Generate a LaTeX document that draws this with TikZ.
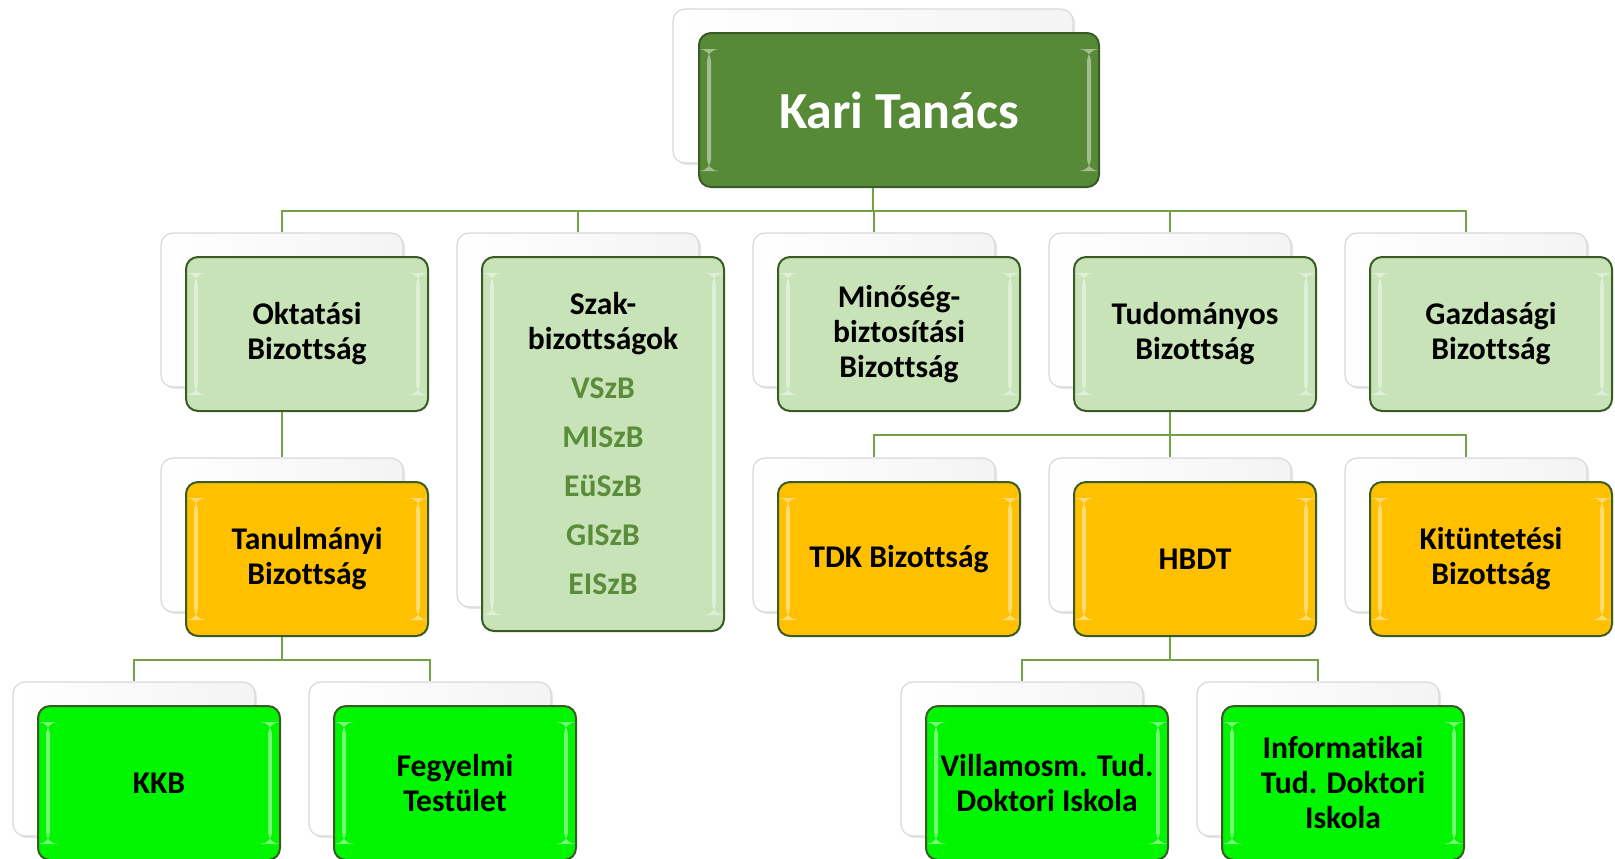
\documentclass[tikz,border=0pt]{standalone}
\usepackage{fontspec}
\setmainfont{Carlito}[Ligatures=NoCommon]
\usetikzlibrary{shadows}

\definecolor{ktgreen}{HTML}{568A37}
\definecolor{palegreen}{HTML}{C8E3B7}
\definecolor{gold}{HTML}{FFC000}
\definecolor{brightgreen}{HTML}{00F500}
\definecolor{edge}{HTML}{3A5A26}
\definecolor{linkgreen}{HTML}{72A146}
\definecolor{itemgreen}{HTML}{5A8C3A}

\tikzset{
  back/.style = {rectangle, rounded corners=6pt, draw=gray!30, line width=.6pt,
    left color=white, right color=gray!9,
    drop shadow={shadow xshift=1pt, shadow yshift=-1pt, opacity=.2},
    minimum width=121pt, minimum height=77pt},
  front/.style = {rectangle, rounded corners=6pt, draw=edge, line width=1pt,
    minimum width=121pt, minimum height=77pt, align=center,
    font=\bfseries\fontsize{15.8}{17.5}\selectfont,
    path picture={
      \fill[white, opacity=.45]
        ([xshift=4pt,yshift=-8pt]path picture bounding box.north west) rectangle
        ([xshift=6pt,yshift=8pt]path picture bounding box.south west);
      \fill[white, opacity=.45]
        ([xshift=-6pt,yshift=-8pt]path picture bounding box.north east) rectangle
        ([xshift=-4pt,yshift=8pt]path picture bounding box.south east);
    }},
  toplevel/.style = {front, fill=ktgreen, text=white, minimum width=200pt,
    font=\bfseries\fontsize{26}{30}\selectfont},
  committee/.style = {front, fill=palegreen},
  subcommittee/.style = {front, fill=gold},
  unit/.style = {front, fill=brightgreen},
  link/.style = {draw=linkgreen, line width=1.4pt}
}

\begin{document}
\begin{tikzpicture}[x=.5pt, y=-.5pt]
  \useasboundingbox (0,0) rectangle (1615,858);

  % back plates
  \node [back, minimum width=200pt] (kt) at (873,86) {};
  \node [back] (okt)  at (282,310) {};
  \node [back, minimum height=187pt] (szak) at (578,420) {};
  \node [back] (min)  at (874,310) {};
  \node [back] (tud)  at (1170,310) {};
  \node [back] (gazd) at (1466,310) {};
  \node [back] (tan)  at (282,535) {};
  \node [back] (tdk)  at (874,535) {};
  \node [back] (hbdt) at (1170,535) {};
  \node [back] (kit)  at (1466,535) {};
  \node [back] (kkb)  at (134,759) {};
  \node [back] (feg)  at (430,759) {};
  \node [back] (vill) at (1022,759) {};
  \node [back] (info) at (1318,759) {};

  % front boxes
  \node [toplevel] (kt-f) at ([shift={(26,24)}]kt) {Kari Tanács};
  \node [committee] (okt-f) at ([shift={(25,24)}]okt) {Oktatási\\Bizottság};
  \node [committee, minimum height=187pt] (szak-f) at ([shift={(25,24)}]szak)
    {Szak-\\bizottságok\\[7pt]
     \textcolor{itemgreen}{VSzB}\\[7pt]
     \textcolor{itemgreen}{MISzB}\\[7pt]
     \textcolor{itemgreen}{EüSzB}\\[7pt]
     \textcolor{itemgreen}{GISzB}\\[7pt]
     \textcolor{itemgreen}{EISzB}};
  \node [committee] (min-f) at ([shift={(25,24)}]min) {Minőség-\\biztosítási\\Bizottság};
  \node [committee] (tud-f) at ([shift={(25,24)}]tud) {Tudományos\\Bizottság};
  \node [committee] (gazd-f) at ([shift={(25,24)}]gazd) {Gazdasági\\Bizottság};
  \node [subcommittee] (tan-f) at ([shift={(25,24)}]tan) {Tanulmányi\\Bizottság};
  \node [subcommittee] (tdk-f) at ([shift={(25,24)}]tdk) {TDK Bizottság};
  \node [subcommittee] (hbdt-f) at ([shift={(25,24)}]hbdt) {HBDT};
  \node [subcommittee] (kit-f) at ([shift={(25,24)}]kit) {Kitüntetési\\Bizottság};
  \node [unit] (kkb-f) at ([shift={(25,24)}]kkb) {KKB};
  \node [unit] (feg-f) at ([shift={(25,24)}]feg) {Fegyelmi\\Testület};
  \node [unit] (vill-f) at ([shift={(25,24)}]vill) {Villamosm. Tud.\\Doktori Iskola};
  \node [unit] (info-f) at ([shift={(25,24)}]info) {Informatikai\\Tud. Doktori\\Iskola};

  % connectors
  \foreach \c in {okt,szak,min,tud,gazd}
    \draw [link] (kt |- kt-f.south) -- ++(0,23) -| (\c.north);
  \draw [link] (okt |- okt-f.south) -- ++(0,23) -| (tan.north);
  \foreach \c in {tdk,hbdt,kit}
    \draw [link] (tud |- tud-f.south) -- ++(0,23) -| (\c.north);
  \foreach \c in {kkb,feg}
    \draw [link] (tan |- tan-f.south) -- ++(0,23) -| (\c.north);
  \foreach \c in {vill,info}
    \draw [link] (hbdt |- hbdt-f.south) -- ++(0,23) -| (\c.north);
\end{tikzpicture}
\end{document}
